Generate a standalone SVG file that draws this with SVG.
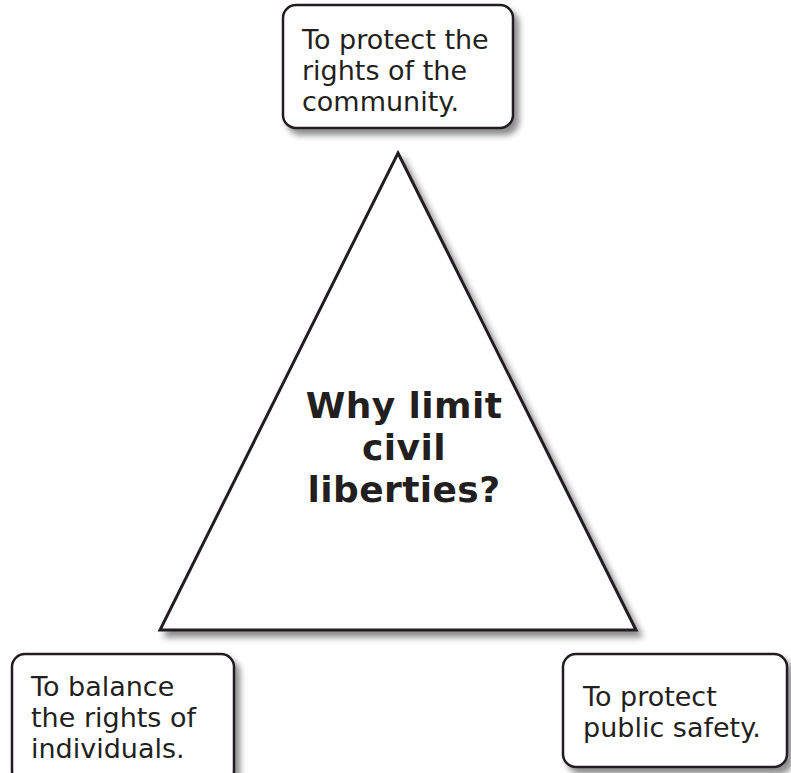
<svg xmlns="http://www.w3.org/2000/svg" width="791" height="773" viewBox="0 0 791 773">
<defs>
<filter id="sh" x="-10%" y="-10%" width="130%" height="130%">
<feGaussianBlur in="SourceAlpha" stdDeviation="3"/>
<feOffset dx="5" dy="6" result="b"/>
<feFlood flood-color="#000" flood-opacity="0.45"/>
<feComposite in2="b" operator="in"/>
<feMerge><feMergeNode/><feMergeNode in="SourceGraphic"/></feMerge>
</filter>
<style>
.box{fill:#fff;stroke:#231f20;stroke-width:2.5;filter:url(#sh)}
.tri{fill:#fff;stroke:#231f20;stroke-width:3;stroke-linejoin:miter;filter:url(#sh)}
.t{font-family:"DejaVu Sans",Verdana,sans-serif;font-size:27px;fill:#231f20}
.c{font-family:"DejaVu Sans",Verdana,sans-serif;font-size:36px;font-weight:bold;fill:#231f20;text-anchor:middle;letter-spacing:0.4px}
</style>
</defs>
<rect width="791" height="773" fill="#fff"/>
<g id="connectors"></g>
<g id="center">
<polygon class="tri" points="398,153 636,630 160,630"/>
<text class="c" x="404" y="418">Why limit</text>
<text class="c" x="404" y="460">civil</text>
<text class="c" x="404" y="502">liberties?</text>
</g>
<g id="top">
<rect class="box" x="283" y="5" width="230" height="123" rx="13"/>
<text class="t" x="302" y="49">To protect the</text>
<text class="t" x="302" y="80">rights of the</text>
<text class="t" x="302" y="111">community.</text>
</g>
<g id="left">
<rect class="box" x="12" y="654" width="222" height="130" rx="13"/>
<text class="t" x="31" y="696">To balance</text>
<text class="t" x="31" y="727">the rights of</text>
<text class="t" x="31" y="758">individuals.</text>
</g>
<g id="right">
<rect class="box" x="563" y="654" width="224" height="113" rx="13"/>
<text class="t" x="583" y="706">To protect</text>
<text class="t" x="583" y="737">public safety.</text>
</g>
</svg>
